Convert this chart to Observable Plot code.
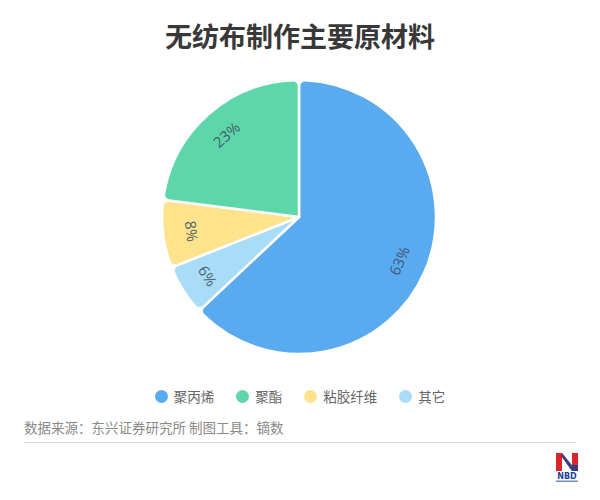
<!DOCTYPE html>
<html><head><meta charset="utf-8">
<script src="https://cdn.jsdelivr.net/npm/d3@7"></script>
<script src="https://cdn.jsdelivr.net/npm/@observablehq/plot@0.6"></script>
<style>
body{margin:0;background:#fff;font-family:"Noto Sans CJK SC","Noto Sans",sans-serif;}
#wrap{position:relative;width:600px;height:500px;overflow:hidden;background:#fff;}
#title{position:absolute;top:16px;left:0;width:600px;text-align:center;font-size:27px;font-weight:bold;color:#383838;line-height:40px;}
#chart{position:absolute;left:0;top:60px;}
#legend{position:absolute;top:386px;left:0;width:600px;display:flex;justify-content:center;font-size:13.5px;color:#666;line-height:20px;}
.item{display:flex;align-items:center;margin:0 11px;}
.dot{width:13px;height:13px;border-radius:50%;margin-right:6px;}
#caption{position:absolute;top:417px;left:24px;font-size:13.5px;color:#8a8a8a;line-height:20px;}
#rule{position:absolute;top:442px;left:24px;width:552px;height:1px;background:#d9d9d9;}
#logo{position:absolute;left:553px;top:451px;}
</style>
</head><body>
<div id="wrap">
  <div id="title"></div>
  <div id="chart"></div>
  <div id="legend"></div>
  <div id="caption"></div>
  <div id="rule"></div>
  <svg id="logo" width="28" height="32" viewBox="0 0 28 32">
    <path d="M3 2 L9 2 L19 16 L19 2 L25 2 L25 20 L19 20 L9 6 L9 20 L3 20 Z" fill="#d8262d"/>
    <path d="M9 6 L19 20 L25 20 L25 14 L19 14 L9 2 Z" fill="#1c3f94" opacity="0.85"/>
    <text x="14" y="28" text-anchor="middle" font-family="DejaVu Sans" font-weight="bold" font-size="8" fill="#1c3f94">NBD</text>
    <rect x="3" y="29.5" width="22" height="1.5" fill="#1c3f94" opacity="0.6"/>
  </svg>
</div>
<script>
// ---- data ----
const titleText = "无纺布制作主要原材料";
const categories = ["聚丙烯", "聚酯", "粘胶纤维", "其它"];
const values = [63, 23, 8, 6];
const colors = ["#5aaaf0", "#5dd6aa", "#fde38c", "#a9dcf6"];
// clockwise drawing order starting at 12 o'clock
const drawOrder = ["聚丙烯", "其它", "粘胶纤维", "聚酯"];
const captionText = "数据来源：东兴证券研究所 制图工具：镝数";

document.getElementById("title").textContent = titleText;
document.getElementById("caption").textContent = captionText;

const colorScale = Plot.scale({color: {type: "ordinal", domain: categories, range: colors}});

const data = drawOrder.map(name => ({name, value: values[categories.indexOf(name)]}));
const arcs = d3.pie().sort(null).value(d => d.value).startAngle(0).endAngle(2 * Math.PI)(data);

const labelR = 0.8;
const labels = arcs.map(a => {
  const mid = (a.startAngle + a.endAngle) / 2;
  let rot = mid * 180 / Math.PI - 180;
  while (rot > 90) rot -= 180;
  while (rot <= -90) rot += 180;
  return {
    lx: labelR * Math.sin(mid),
    ly: labelR * Math.cos(mid),
    label: a.data.value + "%",
    rot
  };
});

const W = 600, H = 320, R = 137, cx = 299, cy = 157;

function pieMark(...args) {
  const scales = args.find(a => a && typeof a.x === "function" && typeof a.y === "function");
  const sx = scales.x, sy = scales.y;
  const r = Math.abs(sx(1) - sx(0));
  const g = d3.create("svg:g").attr("transform", `translate(${sx(0)},${sy(0)})`);
  const arc = d3.arc().innerRadius(0).outerRadius(r).cornerRadius(6);
  g.selectAll("path").data(arcs).join("path")
    .attr("d", arc)
    .attr("fill", d => colorScale.apply(d.data.name))
    .attr("stroke", "#fff")
    .attr("stroke-width", 2.5)
    .attr("stroke-linejoin", "round");
  return g.node();
}

const chart = Plot.plot({
  width: W, height: H, margin: 0,
  style: {background: "transparent", overflow: "visible"},
  x: {domain: [-cx / R, (W - cx) / R], axis: null},
  y: {domain: [-(H - cy) / R, cy / R], axis: null},
  marks: [
    pieMark,
    Plot.text(labels, {x: "lx", y: "ly", text: "label", rotate: "rot", fontSize: 15,
      fill: "#3d4f63", fillOpacity: 0.85, fontFamily: "Noto Sans, sans-serif"})
  ]
});
document.getElementById("chart").appendChild(chart);

const legend = document.getElementById("legend");
categories.forEach(c => {
  const it = document.createElement("div");
  it.className = "item";
  const dot = document.createElement("div");
  dot.className = "dot";
  dot.style.background = colorScale.apply(c);
  const t = document.createElement("span");
  t.textContent = c;
  it.appendChild(dot); it.appendChild(t);
  legend.appendChild(it);
});
</script>
</body></html>
